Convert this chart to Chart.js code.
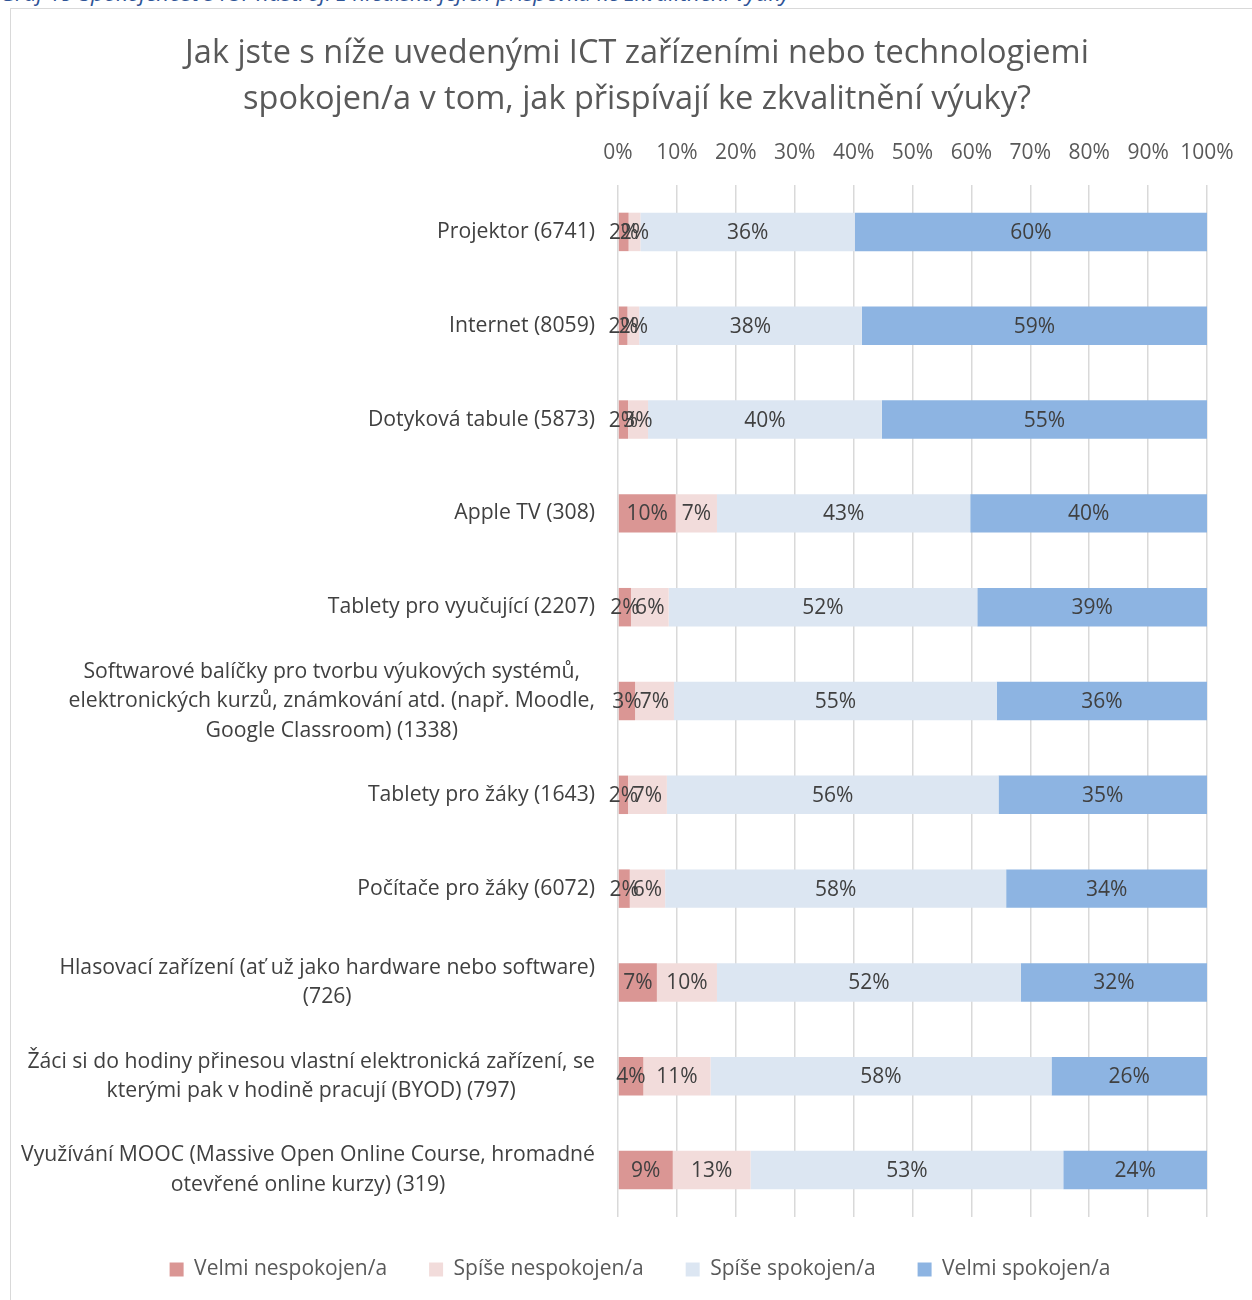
<!DOCTYPE html>
<html lang="cs">
<head>
<meta charset="utf-8">
<script src="https://cdn.jsdelivr.net/npm/chart.js@4/dist/chart.umd.min.js"></script>
<style>
  html, body { margin: 0; padding: 0; background: #fff; overflow: hidden; width: 1252px; height: 1300px; }
  #caption { position: absolute; left: 0; top: -18px; font: italic 22.3px/22px "Open Sans", sans-serif; color: #2F5496; white-space: nowrap; }
  #frame { position: absolute; left: 10px; top: 8px; width: 1300px; height: 1400px; border-left: 1.5px solid #d9d9d9; border-top: 1.5px solid #d9d9d9; }
  #wrap { position: absolute; left: 10px; top: 8px; width: 1254px; height: 1292px; }
</style>
</head>
<body>
<div id="caption">Graf 19 Spokojenost s ICT nástroji z hlediska jejich příspěvku ke zkvalitnění výuky</div>
<div id="frame"></div>
<div id="wrap"><canvas id="c" width="1254" height="1292"></canvas></div>
<script>
const titleLines = ['Jak jste s níže uvedenými ICT zařízeními nebo technologiemi', 'spokojen/a v tom, jak přispívají ke zkvalitnění výuky?'];

const categories = [
  ['Projektor (6741)'],
  ['Internet (8059)'],
  ['Dotyková tabule (5873)'],
  ['Apple TV (308)'],
  ['Tablety pro vyučující (2207)'],
  ['Softwarové balíčky pro tvorbu výukových systémů,', 'elektronických kurzů, známkování atd. (např. Moodle,', 'Google Classroom) (1338)'],
  ['Tablety pro žáky (1643)'],
  ['Počítače pro žáky (6072)'],
  ['Hlasovací zařízení (ať už jako hardware nebo software)', '(726)'],
  ['Žáci si do hodiny přinesou vlastní elektronická zařízení, se', 'kterými pak v hodině pracují (BYOD) (797)'],
  ['Využívání MOOC (Massive Open Online Course, hromadné', 'otevřené online kurzy) (319)']
];

const seriesNames = ['Velmi nespokojen/a', 'Spíše nespokojen/a', 'Spíše spokojen/a', 'Velmi spokojen/a'];

const velmiNespokojen = [1.8, 1.6, 1.7, 9.8, 2.2, 2.9, 1.7, 2.0, 6.6, 4.3, 9.3];
const spiseNespokojen = [2.0, 2.0, 3.4, 7.0, 6.4, 6.6, 6.6, 6.0, 10.2, 11.4, 13.2];
const spiseSpokojen   = [36.4, 37.8, 39.7, 43.0, 52.4, 54.8, 56.3, 57.9, 51.6, 57.9, 53.1];
const velmiSpokojen   = [59.8, 58.6, 55.2, 40.2, 39.0, 35.7, 35.4, 34.1, 31.6, 26.4, 24.4];

const xTickValues = [0, 10, 20, 30, 40, 50, 60, 70, 80, 90, 100];

const colors = ['#DA9694', '#F2DCDB', '#DCE6F2', '#8DB4E2'];
const FONT = '"Open Sans", sans-serif';

const yLabelPlugin = {
  id: 'yLabels',
  afterDraw(chart) {
    const ctx = chart.ctx;
    const yScale = chart.scales.y;
    const right = chart.chartArea.left - 23;
    const lineH = 29.5;
    ctx.save();
    ctx.font = '21.2px ' + FONT;
    ctx.fillStyle = '#404040';
    ctx.textAlign = 'center';
    ctx.textBaseline = 'middle';
    categories.forEach((lines, i) => {
      const y = yScale.getPixelForTick(i);
      const w = Math.max(...lines.map(l => ctx.measureText(l).width));
      const cx = right - w / 2;
      const y0 = y - (lines.length - 1) * lineH / 2;
      lines.forEach((l, k) => ctx.fillText(l, cx, y0 + k * lineH));
    });
    ctx.restore();
  }
};

const dataLabelPlugin = {
  id: 'dataLabels',
  afterDatasetsDraw(chart) {
    const ctx = chart.ctx;
    ctx.save();
    ctx.font = '21px ' + FONT;
    ctx.fillStyle = '#404040';
    ctx.textAlign = 'center';
    ctx.textBaseline = 'middle';
    chart.data.datasets.forEach((ds, di) => {
      const meta = chart.getDatasetMeta(di);
      meta.data.forEach((el, i) => {
        const p = el.getProps(['x', 'base', 'y'], true);
        ctx.fillText(Math.round(ds.data[i]) + '%', (p.x + p.base) / 2, p.y + 1);
      });
    });
    ctx.restore();
  }
};

// centre title and legend on the whole chart box (not only the plot width)
const centerBoxesPlugin = {
  id: 'centerBoxes',
  afterLayout(chart) {
    if (chart.titleBlock) chart.titleBlock.right = chart.width;
    if (chart.legend) { chart.legend.left += 3; chart.legend.right = chart.width + 3; }
  }
};

const datasets = [velmiNespokojen, spiseNespokojen, spiseSpokojen, velmiSpokojen].map((d, i) => ({
  label: seriesNames[i],
  data: d,
  backgroundColor: colors[i],
  borderWidth: 0,
  barPercentage: 0.41,
  categoryPercentage: 1
}));

new Chart(document.getElementById('c'), {
  type: 'bar',
  data: { labels: categories.map(c => c.join(' ')), datasets },
  plugins: [yLabelPlugin, dataLabelPlugin, centerBoxesPlugin],
  options: {
    responsive: false,
    animation: false,
    indexAxis: 'y',
    layout: { padding: { left: 0, right: 57, top: 0, bottom: 10 } },
    plugins: {
      tooltip: { enabled: false },
      title: {
        display: true,
        text: titleLines,
        color: '#595959',
        font: { family: FONT, size: 32.5, weight: 'normal', lineHeight: 46 / 32.5 },
        padding: { top: 23, bottom: 0 }
      },
      legend: {
        position: 'bottom',
        labels: {
          color: '#595959',
          font: { family: FONT, size: 21 },
          boxWidth: 14,
          boxHeight: 14,
          padding: 42
        }
      }
    },
    scales: {
      x: {
        position: 'top',
        stacked: true,
        min: 0,
        max: 100,
        afterBuildTicks(scale) { scale.ticks = xTickValues.map(v => ({ value: v })); },
        ticks: {
          callback: v => v + '%',
          color: '#595959',
          font: { family: FONT, size: 21 },
          padding: 19,
          maxRotation: 0,
          minRotation: 0,
          autoSkip: false
        },
        grid: { color: '#D9D9D9', lineWidth: 1.5, drawTicks: false },
        border: { display: false },
        afterFit(scale) { scale.height = 62; }
      },
      y: {
        stacked: true,
        grid: { display: false },
        border: { display: false },
        ticks: { display: false },
        afterFit(scale) { scale.width = 608; }
      }
    }
  }
});
</script>
</body>
</html>
